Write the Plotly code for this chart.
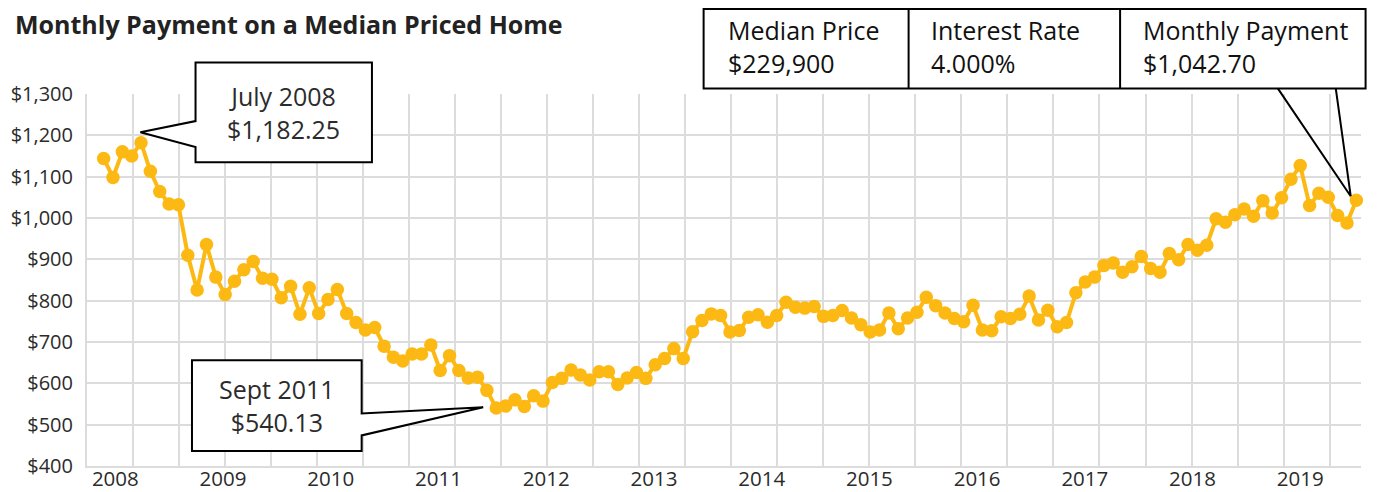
import plotly.graph_objects as go
import pandas as pd

# ---------------- data ----------------
months = pd.date_range("2008-03-01", periods=135, freq="MS").strftime("%b %Y").tolist()
payments = [
    1144, 1098, 1160, 1150, 1182.25, 1113, 1064, 1034, 1032, 910,
    826, 936, 857, 815, 847, 875, 895, 854, 852, 807,
    835, 767, 831, 769, 803, 827, 769, 747, 729, 735,
    690, 663, 654, 671, 671, 693, 631, 667, 631, 613,
    615, 583, 540.13, 545, 560, 544, 570, 557, 602, 612,
    632, 620, 608, 628, 628, 597, 613, 626, 612, 645,
    660, 684, 660, 725, 752, 768, 764, 724, 728, 760,
    766, 748, 764, 796, 784, 782, 786, 762, 764, 776,
    758, 742, 724, 729, 770, 732, 758, 772, 808, 788,
    770, 757, 749, 789, 729, 727, 761, 757, 767, 811,
    753, 777, 737, 747, 819, 845, 857, 885, 891, 869,
    882, 907, 878, 869, 914, 899, 936, 922, 934, 998,
    990, 1008, 1022, 1004, 1042, 1012, 1049, 1094, 1127, 1030,
    1060, 1050, 1006, 988, 1042.70,
]
year_labels = ["2008", "2009", "2010", "2011", "2012", "2013",
               "2014", "2015", "2016", "2017", "2018", "2019"]
y_ticks = [400, 500, 600, 700, 800, 900, 1000, 1100, 1200, 1300]

info_labels = ["Median Price", "Interest Rate", "Monthly Payment"]
info_values = ["$229,900", "4.000%", "$1,042.70"]

# ---------------- layout constants ----------------
idx = list(range(len(payments)))
XR = [-1.78, 134.5]
YR = [400, 1300]
LABEL_START, LABEL_STEP = 1.25, 11.523
GRID_STEP = 4.923
FONT = "Open Sans"
GOLD = "#FDB913"
GRID = "#dcdcdc"
TXT = "#2b2b2b"
W, H = 1369, 484   # page body has an 8px margin

tickvals = [LABEL_START + LABEL_STEP * k for k in range(len(year_labels))]


def P(x, y):
    """data -> paper coordinates"""
    return ((x - XR[0]) / (XR[1] - XR[0]), (y - YR[0]) / (YR[1] - YR[0]))


def path(points, close=True):
    s = ""
    for i, (x, y) in enumerate(points):
        px, py = P(x, y)
        s += ("M" if i == 0 else "L") + f"{px:.5f},{py:.5f} "
    return s + ("Z" if close else "")


fig = go.Figure()
fig.add_trace(go.Scatter(
    x=idx, y=payments, customdata=months,
    mode="lines+markers",
    line=dict(color=GOLD, width=4),
    marker=dict(color=GOLD, size=13.5),
    hovertemplate="%{customdata}: $%{y:,.2f}<extra></extra>",
    cliponaxis=False,
))

shapes = []
# July 2008 callout
peak_i = 4
jl, jr, jb, jt = 9.83, 28.7, 1135, 1376
shapes.append(dict(type="path", xref="paper", yref="paper",
                   path=path([(jl, jt), (jr, jt), (jr, jb), (jl, jb), (jl, 1171.6),
                              (peak_i - 0.07, payments[peak_i] + 25), (jl, 1234.5)]),
                   fillcolor="white", line=dict(color="black", width=2)))
# Sept 2011 callout
low_i = 42
sl, sr, sb, st = 9.45, 27.6, 436, 656
shapes.append(dict(type="path", xref="paper", yref="paper",
                   path=path([(sl, st), (sr, st), (sr, 527), (low_i - 1.4, payments[low_i] + 2),
                              (sr, 474), (sr, sb), (sl, sb)]),
                   fillcolor="white", line=dict(color="black", width=2)))
# info box pointer
last_i = len(payments) - 1
shapes.append(dict(type="path", xref="paper", yref="paper",
                   path=path([(125.6, 1313.5), (last_i - 0.6, payments[last_i] + 10), (131.8, 1313.5)], close=False),
                   line=dict(color="black", width=2)))
# info box
box_l, box_r = 0.484, 1.0036
box_b, box_t = 1.015, 1.2285
box_mid = 1.1265
dividers = [0.6449, 0.8109]
shapes.append(dict(type="rect", xref="paper", yref="paper", x0=box_l, x1=box_r, y0=box_b, y1=box_t,
                   fillcolor="white", line=dict(color="black", width=2)))
for d in dividers:
    shapes.append(dict(type="line", xref="paper", yref="paper", x0=d, x1=d, y0=box_b, y1=box_t,
                       line=dict(color="black", width=2)))

annotations = []
cx, cy = P((jl + jr) / 2, (jb + jt) / 2)
annotations.append(dict(xref="paper", yref="paper", x=cx, y=cy, showarrow=False,
                        xanchor="center", yanchor="middle",
                        text=f"{months[peak_i].replace('Jul', 'July')}<br>${payments[peak_i]:,.2f}",
                        font=dict(family=FONT, size=25, color=TXT), align="center"))
cx, cy = P((sl + sr) / 2, (sb + st) / 2)
annotations.append(dict(xref="paper", yref="paper", x=cx, y=cy, showarrow=False,
                        xanchor="center", yanchor="middle",
                        text=f"{months[low_i].replace('Sep', 'Sept')}<br>${payments[low_i]:,.2f}",
                        font=dict(family=FONT, size=25, color=TXT), align="center"))
text_x = [box_l + 0.0177, dividers[0] + 0.0162, dividers[1] + 0.0165]
for tx, lab, val in zip(text_x, info_labels, info_values):
    annotations.append(dict(xref="paper", yref="paper", x=tx, y=box_mid,
                            xanchor="left", yanchor="middle", showarrow=False, align="left",
                            text=f"{lab}<br>{val}",
                            font=dict(family=FONT, size=25, color="#111")))

fig.update_layout(
    width=W, height=H,
    margin=dict(l=79, r=16, t=86, b=26),
    paper_bgcolor="white", plot_bgcolor="white",
    showlegend=False,
    font=dict(family=FONT, color=TXT),
    title=dict(text="<b>Monthly Payment on a Median Priced Home</b>",
               xref="container", yref="container", x=7 / W, y=1 - 17.5 / H,
               xanchor="left", yanchor="middle",
               font=dict(family=FONT, size=25, color="#222")),
    shapes=shapes,
    annotations=annotations,
    xaxis=dict(range=XR, showgrid=False, zeroline=False, automargin=False,
               tickmode="array", tickvals=tickvals, ticktext=year_labels,
               ticks="", ticklabelstandoff=-7,
               tickfont=dict(family=FONT, size=20.5, color=TXT),
               showline=True, linecolor=GRID, linewidth=2,
               minor=dict(tickmode="linear", tick0=XR[0], dtick=GRID_STEP,
                          showgrid=True, gridcolor=GRID, gridwidth=1.5, ticks="")),
    yaxis=dict(range=YR, tickmode="array", tickvals=y_ticks, automargin=False,
               ticktext=[f"${v:,}" for v in y_ticks], ticks="", ticklabelstandoff=8,
               showgrid=True, gridcolor=GRID, gridwidth=1.5, zeroline=False,
               showline=True, linecolor=GRID, linewidth=2,
               tickfont=dict(family=FONT, size=20, color=TXT)),
)

fig.write_html("out.html")
